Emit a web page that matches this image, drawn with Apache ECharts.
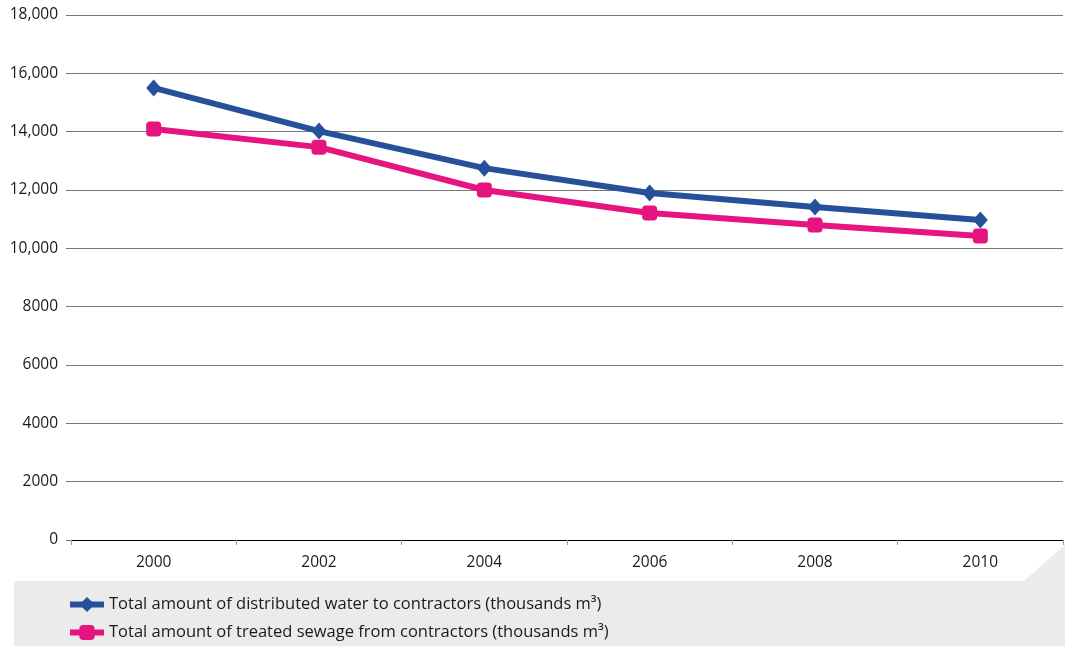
<!DOCTYPE html>
<html>
<head>
<meta charset="utf-8">
<script src="https://cdn.jsdelivr.net/npm/echarts@6/dist/echarts.min.js"></script>
<style>
  html, body { margin: 0; padding: 0; background: #fff; }
  #chart { width: 1065px; height: 646px; }
</style>
</head>
<body>
<div id="chart"></div>
<script>
// Years on the category axis
const years = ['2000', '2002', '2004', '2006', '2008', '2010'];
// Thousands of cubic metres
const distributedWater = [15500, 14020, 12750, 11900, 11420, 10970];
const treatedSewage = [14090, 13470, 12000, 11210, 10800, 10420];
const seriesNames = [
  'Total amount of distributed water to contractors (thousands m³)',
  'Total amount of treated sewage from contractors (thousands m³)'
];

const FONT = '"Open Sans", "Noto Sans", sans-serif';
const BLUE = '#27509b';
const PINK = '#e6147f';
const chart = echarts.init(document.getElementById('chart'), null, { renderer: 'canvas' });

// one legend block per series, stacked in the grey footer
function legendRow(name, top) {
  return {
    left: 62,
    top: top,
    itemWidth: 34,
    itemHeight: 19,
    lineStyle: { width: 6 },
    textStyle: { fontFamily: FONT, fontSize: 16.5, color: '#1a1a1a' },
    data: [name]
  };
}

chart.setOption({
  animation: false,
  backgroundColor: '#ffffff',
  textStyle: { fontFamily: FONT },
  graphic: [{
    type: 'polygon',
    z: -10,
    silent: true,
    shape: { points: [[14, 581], [1024, 581], [1065, 545], [1065, 646], [14, 646]] },
    style: { fill: '#ebebeb' }
  }],
  grid: { left: 71, right: 2, top: 15, bottom: 106, containLabel: false },
  legend: [legendRow(seriesNames[0], 591), legendRow(seriesNames[1], 619)],
  xAxis: {
    type: 'category',
    data: years,
    boundaryGap: true,
    axisLine: { lineStyle: { color: '#000', width: 1 } },
    axisTick: { show: true, length: 5, lineStyle: { color: '#999' } },
    axisLabel: { fontFamily: FONT, fontSize: 15.5, color: '#1a1a1a', margin: 15 }
  },
  yAxis: {
    type: 'value',
    min: 0,
    max: 18000,
    interval: 2000,
    axisLine: { show: false },
    axisTick: { show: true, length: 5, lineStyle: { color: '#777' } },
    splitLine: { lineStyle: { color: '#777', width: 1 } },
    axisLabel: {
      fontFamily: FONT, fontSize: 15.5, color: '#1a1a1a', margin: 13,
      formatter: v => v >= 10000 ? v.toLocaleString('en-US') : String(v)
    }
  },
  series: [
    {
      name: seriesNames[0],
      type: 'line',
      data: distributedWater,
      color: BLUE,
      lineStyle: { width: 6, color: BLUE },
      symbol: 'diamond',
      symbolSize: [15, 17],
      itemStyle: { color: BLUE },
      z: 3
    },
    {
      name: seriesNames[1],
      type: 'line',
      data: treatedSewage,
      color: PINK,
      lineStyle: { width: 6, color: PINK },
      symbol: 'roundRect',
      symbolSize: 15,
      itemStyle: { color: PINK },
      z: 2
    }
  ]
});
</script>
</body>
</html>
